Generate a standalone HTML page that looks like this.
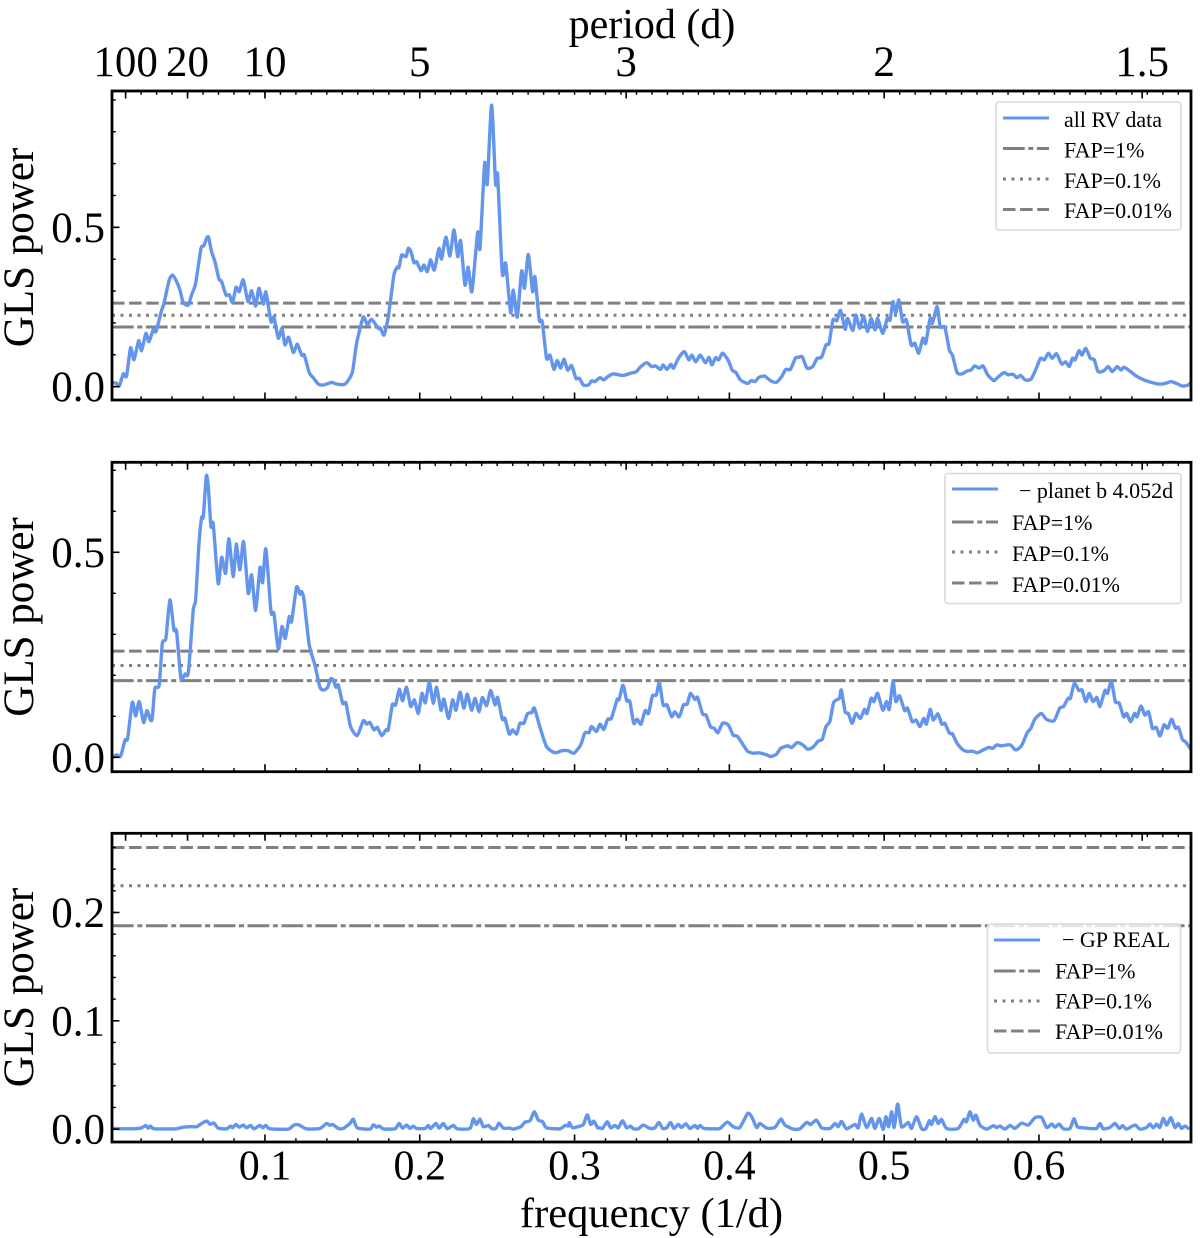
<!DOCTYPE html>
<html lang="en">
<head>
<meta charset="utf-8">
<title>GLS periodograms</title>
<style>
html,body{margin:0;padding:0;background:#fff;}
body{width:1200px;height:1238px;overflow:hidden;}
svg{display:block;filter:blur(0.35px);}
text{font-family:"Liberation Serif","Times New Roman",serif;fill:#000;}
.legend-box{fill:#fff;fill-opacity:.8;stroke:#d9d9d9;stroke-width:1.6;}
.legend-text{font-size:22px;}
.axis-title{font-size:42px;}
.h{fill:none;stroke-width:3;}
.blue{stroke:#6495ed;}
.gray{stroke:#808080;}
.dd{stroke-dasharray:21.7 3.6 5 3.6;}
.dot{stroke-dasharray:3 5.5;}
.dash{stroke-dasharray:12.5 4.6;}
</style>
</head>
<body>
<svg id="chart" xmlns="http://www.w3.org/2000/svg" width="1200" height="1238" viewBox="0 0 1200 1238">
  <defs>
    <clipPath id="clip-0"><rect x="112" y="91" width="1079" height="309"/></clipPath>
    <clipPath id="clip-1"><rect x="112" y="462.3" width="1079" height="309.4"/></clipPath>
    <clipPath id="clip-2"><rect x="112" y="833.3" width="1079" height="308.7"/></clipPath>
  </defs>
  <g id="plots"></g>

  <g>
    <rect class="legend-box" x="996" y="102" width="185" height="128" rx="3"/>
    <line class="h blue" x1="1003" x2="1049" y1="118" y2="118"/>
    <line class="h gray dd" x1="1003" x2="1049" y1="148.5" y2="148.5"/>
    <line class="h gray dot" x1="1003" x2="1049" y1="179" y2="179"/>
    <line class="h gray dash" x1="1003" x2="1049" y1="209.5" y2="209.5"/>
    <text class="legend-text" x="1064" y="127">all RV data</text>
    <text class="legend-text" x="1064" y="157.5">FAP=1%</text>
    <text class="legend-text" x="1064" y="188">FAP=0.1%</text>
    <text class="legend-text" x="1064" y="218">FAP=0.01%</text>
  </g>
  <g>
    <rect class="legend-box" x="945" y="473.5" width="236" height="130" rx="3"/>
    <line class="h blue" x1="952" x2="998" y1="489" y2="489"/>
    <line class="h gray dd" x1="952" x2="998" y1="522" y2="522"/>
    <line class="h gray dot" x1="952" x2="998" y1="552" y2="552"/>
    <line class="h gray dash" x1="952" x2="998" y1="583" y2="583"/>
    <text class="legend-text" x="1019" y="498">− planet b 4.052d</text>
    <text class="legend-text" x="1012" y="530">FAP=1%</text>
    <text class="legend-text" x="1012" y="561">FAP=0.1%</text>
    <text class="legend-text" x="1012" y="592">FAP=0.01%</text>
  </g>
  <g>
    <rect class="legend-box" x="987.5" y="924" width="193" height="129" rx="3"/>
    <line class="h blue" x1="994" x2="1040" y1="940" y2="940"/>
    <line class="h gray dd" x1="994" x2="1040" y1="971" y2="971"/>
    <line class="h gray dot" x1="994" x2="1040" y1="1001" y2="1001"/>
    <line class="h gray dash" x1="994" x2="1040" y1="1031" y2="1031"/>
    <text class="legend-text" x="1062" y="947">− GP REAL</text>
    <text class="legend-text" x="1055" y="978.5">FAP=1%</text>
    <text class="legend-text" x="1055" y="1008.5">FAP=0.1%</text>
    <text class="legend-text" x="1055" y="1039">FAP=0.01%</text>
  </g>

  <g id="frames"></g>

  <text class="axis-title" x="652" y="38" text-anchor="middle">period (d)</text>
  <text class="axis-title" x="651.5" y="1227" text-anchor="middle" style="font-size:42.5px">frequency (1/d)</text>
  <text class="axis-title" transform="translate(33,247.5) rotate(-90)" text-anchor="middle" style="font-size:43px">GLS power</text>
  <text class="axis-title" transform="translate(33,617) rotate(-90)" text-anchor="middle" style="font-size:43px">GLS power</text>
  <text class="axis-title" transform="translate(33,987.5) rotate(-90)" text-anchor="middle" style="font-size:43px">GLS power</text>
</svg>

<script>
// ---- data ----
var xMajorTicks = [0.1, 0.2, 0.3, 0.4, 0.5, 0.6];
var xTickLabels = ['0.1', '0.2', '0.3', '0.4', '0.5', '0.6'];
var periodTicks = [100, 20, 10, 5, 3, 2, 1.5];
var periodLabels = ['100', '20', '10', '5', '3', '2', '1.5'];

var yTicksAll = [0, 0.5];
var yLabelsAll = ['0.0', '0.5'];
var yTicksPlanet = [0, 0.5];
var yLabelsPlanet = ['0.0', '0.5'];
var yTicksGp = [0, 0.1, 0.2];
var yLabelsGp = ['0.0', '0.1', '0.2'];

var yRangeAll = [-0.042, 0.928];
var yRangePlanet = [-0.0351, 0.7195];
var yRangeGp = [-0.0119, 0.2731];

var fapAll = [0.187, 0.224, 0.262];
var fapPlanet = [0.187, 0.224, 0.259];
var fapGp = [0.1877, 0.2247, 0.2600];

var freqAll = [
.0016,.0042,.0059,.0085,.0106,.0132,.0154,.0184,.0203,.0231,
.0251,.0279,.0296,.0332,.0348,.0382,.0404,.0429,.0451,.0472,
.0505,.0526,.0552,.0587,.0606,.0623,.0636,.0655,.0677,.0703,
.0720,.0748,.0770,.0791,.0813,.0834,.0860,.0890,.0914,.0940,
.0961,.0989,.1006,.1039,.1058,.1086,.1110,.1129,.1153,.1183,
.1209,.1237,.1254,.1286,.1312,.1345,.1377,.1431,.1463,.1517,
.1564,.1592,.1635,.1661,.1689,.1732,.1747,.1769,.1797,.1833,
.1855,.1866,.1883,.1911,.1926,.1943,.1963,.1980,.2008,.2027,
.2049,.2070,.2094,.2124,.2141,.2169,.2195,.2221,.2245,.2264,
.2292,.2313,.2337,.2374,.2389,.2419,.2436,.2464,.2490,.2503,
.2533,.2555,.2587,.2604,.2630,.2658,.2677,.2701,.2729,.2744,
.2772,.2791,.2819,.2841,.2867,.2888,.2910,.2932,.2955,.2981,
.3009,.3031,.3057,.3089,.3110,.3132,.3164,
.3189,.3214,.3251,.3313,.3362,.3399,.3424,.3466,.3498,.3523,
.3555,.3572,.3597,.3622,.3639,.3671,.3709,.3738,.3758,.3783,
.3812,.3845,.3869,.3887,.3911,.3931,.3956,.3993,.4018,.4043,
.4072,.4117,.4142,.4166,.4191,.4228,.4265,.4303,.4340,.4364,
.4394,.4426,.4446,.4471,.4501,.4538,.4567,.4595,.4624,.4644,
.4669,.4694,.4718,.4748,.4763,.4798,.4817,.4842,.4867,.4892,
.4916,.4941,.4958,.4991,.5020,.5038,.5057,.5075,.5095,.5119,
.5144,.5174,.5198,.5223,.5250,.5268,.5297,.5312,.5342,.5362,
.5392,.5421,.5441,.5471,.5503,.5535,.5560,.5585,.5614,.5639,
.5669,.5708,.5738,.5775,.5800,.5832,.5857,.5882,.5911,.5948,
.5978,.6010,.6035,.6060,.6085,.6114,.6146,.6171,.6196,.6216,
.6233,.6258,.6278,.6302,.6332,.6357,.6382,.6419,.6448,.6473,
.6505,.6530,.6550,.6592,.6629,.6678,.6728,.6778,.6815,.6852,
.6889,.6926,.6963,.6988];
var powerAll = [
.013,.010,.002,.040,.033,.122,.084,.144,.113,.167,
.141,.180,.173,.239,.262,.335,.350,.330,.303,.264,
.256,.288,.324,.434,.442,.466,.469,.424,.392,.338,
.330,.288,.288,.264,.312,.298,.335,.267,.301,.253,
.309,.259,.297,.204,.218,.152,.183,.131,.155,.107,
.133,.099,.099,.044,.028,.008,.005,.013,.008,.008,
.044,.136,.218,.194,.211,.183,.183,.162,.220,.350,
.375,.374,.413,.408,.434,.424,.389,.392,.364,.382,
.361,.398,.366,.434,.401,.469,.410,.492,.408,.458,
.319,.375,.298,.484,.434,.701,.636,.884,.636,.664,
.356,.387,.232,.303,.218,.363,.309,.415,.298,.345,
.209,.204,.089,.099,.054,.082,.058,.086,.052,.066,
.026,.026,.005,.005,.018,.016,.028,
.021,.031,.040,.035,.042,.047,.061,.075,.063,.065,
.054,.068,.054,.070,.058,.089,.110,.084,.099,.078,
.099,.075,.092,.068,.091,.084,.105,.082,.052,.044,
.021,.010,.019,.016,.029,.033,.019,.013,.033,.054,
.054,.089,.092,.094,.058,.063,.089,.092,.131,.136,
.209,.207,.239,.180,.214,.176,.225,.183,.222,.173,
.214,.178,.214,.167,.214,.209,.267,.230,.272,.204,
.209,.131,.136,.105,.152,.136,.214,.199,.251,.188,
.186,.115,.099,.044,.040,.049,.052,.065,.058,.065,
.037,.019,.031,.044,.037,.039,.028,.035,.021,.023,
.052,.089,.084,.105,.089,.103,.071,.078,.063,.089,
.084,.113,.099,.120,.089,.084,.047,.050,.063,.047,
.063,.052,.061,.047,.033,.021,.013,.008,.010,.016,
.010,.002,.005,.016];

var freqPlanet = [
.0016,.0042,.0068,.0096,.0113,.0143,.0165,.0188,.0216,.0238,
.0261,.0272,.0289,.0317,.0337,.0360,.0386,.0412,.0429,.0457,
.0483,.0505,.0537,.0552,.0574,.0591,.0602,.0621,.0634,.0651,
.0666,.0698,.0720,.0746,.0767,.0795,.0815,.0838,.0862,.0892,
.0914,.0940,.0968,.0985,.1006,.1039,.1058,.1086,.1110,.1131,
.1157,.1172,.1204,.1226,.1237,.1252,.1286,.1323,.1355,.1381,
.1405,.1424,.1441,.1458,.1474,.1502,.1523,.1553,.1596,.1635,
.1657,.1678,.1704,.1726,.1754,.1782,.1797,.1823,.1844,.1868,
.1889,.1915,.1941,.1965,.1991,.2014,.2036,.2062,.2087,.2109,
.2137,.2156,.2186,.2212,.2234,.2260,.2285,.2307,.2335,.2357,
.2383,.2404,.2432,.2458,.2486,.2503,.2533,.2550,.2578,.2600,
.2626,.2647,.2673,.2695,.2723,.2740,.2777,.2819,.2873,.2917,
.2959,.2996,.3039,.3067,.3093,.3110,.3142,.3164,
.3189,.3214,.3238,.3275,.3288,.3313,.3337,.3357,.3382,.3404,
.3429,.3456,.3478,.3503,.3528,.3548,.3572,.3597,.3627,.3647,
.3676,.3704,.3728,.3748,.3778,.3795,.3827,.3850,.3877,.3902,
.3926,.3956,.3993,.4025,.4050,.4085,.4117,.4154,.4191,.4241,
.4265,.4303,.4332,.4377,.4402,.4439,.4476,.4505,.4538,.4575,
.4600,.4624,.4649,.4674,.4711,.4723,.4748,.4768,.4793,.4817,
.4847,.4872,.4889,.4916,.4934,.4958,.4991,.5015,.5033,.5057,
.5075,.5099,.5132,.5151,.5181,.5206,.5231,.5255,.5273,.5297,
.5317,.5347,.5372,.5392,.5421,.5441,.5471,.5510,.5540,.5570,
.5602,.5639,.5676,.5701,.5726,.5758,.5788,.5817,.5849,.5887,
.5924,.5948,.5973,.6015,.6047,.6097,.6134,.6159,.6188,.6203,
.6228,.6258,.6278,.6302,.6325,.6349,.6374,.6394,.6426,.6443,
.6468,.6493,.6518,.6547,.6567,.6592,.6617,.6634,.6659,.6684,
.6708,.6733,.6758,.6782,.6807,.6832,.6857,.6881,.6901,.6926,
.6951,.6983];
var powerPlanet = [
.000,.006,.003,.042,.046,.134,.101,.136,.085,.114,
.091,.095,.168,.176,.278,.290,.384,.311,.307,.193,
.203,.207,.359,.384,.522,.585,.587,.686,.660,.563,
.569,.424,.488,.449,.533,.441,.520,.457,.526,.400,
.445,.358,.463,.426,.508,.355,.351,.264,.319,.290,
.343,.331,.415,.398,.404,.385,.274,.225,.171,.164,
.171,.191,.189,.171,.176,.132,.132,.075,.053,.089,
.081,.085,.067,.073,.053,.067,.068,.128,.128,.166,
.138,.171,.124,.140,.107,.156,.133,.183,.132,.171,
.115,.142,.095,.140,.115,.159,.120,.154,.115,.144,
.111,.146,.126,.163,.128,.146,.093,.095,.057,.067,
.057,.083,.083,.106,.109,.120,.073,.026,.011,.016,
.016,.010,.030,.060,.060,.075,.063,.081,
.068,.093,.095,.141,.141,.176,.138,.136,.083,.093,
.081,.114,.107,.150,.152,.182,.128,.128,.099,.111,
.099,.128,.130,.156,.141,.146,.106,.103,.075,.071,
.060,.083,.079,.054,.052,.033,.015,.010,.011,.006,
.002,.007,.022,.028,.024,.036,.030,.020,.024,.040,
.044,.075,.087,.134,.144,.164,.111,.107,.083,.107,
.095,.117,.107,.144,.136,.156,.115,.136,.117,.185,
.136,.150,.114,.120,.087,.091,.075,.095,.081,.117,
.091,.106,.081,.083,.059,.057,.034,.018,.014,.015,
.011,.018,.024,.022,.030,.028,.030,.030,.018,.028,
.060,.071,.093,.107,.093,.089,.120,.124,.144,.144,
.180,.163,.164,.136,.156,.136,.146,.124,.163,.156,
.185,.136,.132,.099,.107,.087,.107,.099,.125,.103,
.111,.071,.073,.052,.079,.071,.093,.071,.073,.044,
.036,.018];

var freqGp = [
.0016,.0149,.0203,.0229,.0246,.0261,.0285,.0429,.0462,.0515,
.0559,.0591,.0623,.0645,.0671,.0698,.0752,.0778,.0791,.0813,
.0834,.0860,.0881,.0907,.0929,.0968,.0985,.1006,.1032,.1151,
.1183,.1215,.1269,.1355,.1398,.1420,.1437,.1474,.1506,.1549,
.1571,.1596,.1678,.1700,.1721,.1739,.1764,.1840,.1866,.1889,
.1915,.1937,.1958,.1980,.2034,.2055,.2070,.2105,.2126,.2152,
.2178,.2217,.2243,.2324,.2346,.2367,.2389,.2411,.2443,.2464,
.2492,.2512,.2540,.2583,.2604,.2652,.2680,.2712,.2740,.2766,
.2794,.2819,.2906,.2938,.2960,.2966,.2988,.3035,.3057,.3082,
.3104,.3125,.3149,
.3164,.3181,.3211,.3233,.3261,.3282,.3310,.3336,.3362,.3379,
.3412,.3444,.3487,.3519,.3545,.3569,.3595,.3620,.3642,.3670,
.3691,.3719,.3745,.3778,.3795,.3810,.3836,.3896,.3939,.3986,
.4025,.4068,.4118,.4144,.4176,.4197,.4241,.4294,.4333,.4359,
.4413,.4456,.4499,.4525,.4563,.4596,.4650,.4682,.4703,.4725,
.4757,.4811,.4833,.4854,.4886,.4919,.4940,.4968,.4994,.5011,
.5029,.5048,.5065,.5087,.5112,.5156,.5177,.5209,.5242,.5270,
.5291,.5306,.5328,.5349,.5371,.5403,.5478,.5515,.5532,.5554,
.5575,.5593,.5618,.5662,.5705,.5726,
.5748,.5780,.5813,.5845,.5888,.5931,.5974,.6017,.6049,.6082,
.6103,.6131,.6157,.6200,.6226,.6248,.6286,.6329,.6372,.6394,
.6415,.6458,.6491,.6519,.6540,.6566,.6620,.6652,.6695,.6717,
.6738,.6760,.6781,.6803,.6825,.6852,.6878,.6900,.6921,.6943,
.6971];
var powerGp = [
.0006,.0003,.0012,.0034,.0009,.0028,.0003,.0003,.0015,.0022,
.0022,.0052,.0074,.0046,.0055,.0009,.0003,.0028,.0012,.0043,
.0018,.0037,.0012,.0034,.0003,.0034,.0012,.0034,.0003,.0000,
.0034,.0040,.0003,.0006,.0052,.0034,.0043,.0006,.0006,.0052,
.0092,.0012,.0000,.0040,.0018,.0028,.0003,.0003,.0052,.0009,
.0037,.0006,.0028,.0006,.0006,.0034,.0006,.0052,.0009,.0052,
.0003,.0034,.0003,.0006,.0095,.0043,.0092,.0022,.0034,.0006,
.0006,.0055,.0009,.0009,.0000,.0022,.0065,.0077,.0160,.0083,
.0068,.0012,.0003,.0034,.0028,.0059,.0012,.0028,.0043,.0132,
.0043,.0074,.0012,
.0012,.0006,.0068,.0012,.0034,.0012,.0077,.0012,.0028,.0003,
.0003,.0037,.0006,.0012,.0062,.0006,.0012,.0062,.0006,.0043,
.0015,.0049,.0006,.0034,.0006,.0034,.0006,.0003,.0006,.0065,
.0022,.0015,.0145,.0114,.0015,.0052,.0009,.0015,.0092,.0037,
.0000,.0003,.0062,.0043,.0083,.0012,.0006,.0052,.0022,.0071,
.0003,.0043,.0012,.0139,.0015,.0099,.0006,.0099,-.0003,.0114,
.0022,.0160,.0015,.0231,.0022,.0062,.0006,.0114,.0003,.0006,
.0077,.0043,.0114,.0052,.0089,.0006,.0006,.0089,.0068,.0160,
.0083,.0129,.0037,.0000,.0031,.0015,
.0028,.0000,.0034,.0006,.0055,.0037,.0105,.0108,.0015,.0046,
.0018,.0046,.0003,.0006,.0095,.0022,.0012,.0006,.0006,.0052,
.0003,.0015,.0052,.0006,.0031,.0000,.0037,.0000,.0015,.0046,
.0012,.0046,.0015,.0099,.0037,.0105,.0015,.0052,.0006,.0028,
.0000];

// ---- layout ----
var SVGNS = 'http://www.w3.org/2000/svg';
var AX_LEFT = 112, AX_RIGHT = 1191;
var F_LEFT = 0.0012, F_RIGHT = 0.6982;
var plotsLayer = document.getElementById('plots');
var framesLayer = document.getElementById('frames');

function xAxis(f) {
  return AX_LEFT + (f - F_LEFT) / (F_RIGHT - F_LEFT) * (AX_RIGHT - AX_LEFT);
}
function makeYAxis(range, top, bottom) {
  return function (p) {
    return bottom - (p - range[0]) / (range[1] - range[0]) * (bottom - top);
  };
}
function svgEl(tag, attrs, parent) {
  var el = document.createElementNS(SVGNS, tag);
  for (var k in attrs) { el.setAttribute(k, attrs[k]); }
  parent.appendChild(el);
  return el;
}
// smooth curve through the data points
function curvePath(xs, ys) {
  var d = 'M' + xs[0].toFixed(2) + ' ' + ys[0].toFixed(2);
  var k = 0.11;
  for (var i = 0; i < xs.length - 1; i++) {
    var a = Math.max(i - 1, 0), b = Math.min(i + 2, xs.length - 1);
    var c1x = xs[i] + (xs[i + 1] - xs[a]) * k;
    var c1y = ys[i] + (ys[i + 1] - ys[a]) * k;
    var c2x = xs[i + 1] - (xs[b] - xs[i]) * k;
    var c2y = ys[i + 1] - (ys[b] - ys[i]) * k;
    d += 'C' + c1x.toFixed(2) + ' ' + c1y.toFixed(2) + ' ' + c2x.toFixed(2) + ' ' + c2y.toFixed(2) + ' ' + xs[i + 1].toFixed(2) + ' ' + ys[i + 1].toFixed(2);
  }
  return d;
}

function drawPanel(id, clipId, top, bottom, yRange, freq, power, fap, yTicks, yLabels, yMinorStep, showXLabels, showTopLabels) {
  var yAxis = makeYAxis(yRange, top, bottom);
  var g = svgEl('g', {}, plotsLayer);
  
  

  // FAP threshold lines
  var fapClasses = ['h gray dd', 'h gray dot', 'h gray dash'];
  var fapNames = ['fap-1-line', 'fap-01-line', 'fap-001-line'];
  fap.forEach(function (level, i) {
    var l = svgEl('line', { x1: AX_LEFT, x2: AX_RIGHT, y1: yAxis(level), y2: yAxis(level), 'class': fapClasses[i] }, g);
    
    
  });

  // series
  var n = Math.min(freq.length, power.length);
  var xs = [], ys = [];
  for (var i = 0; i < n; i++) {
    xs.push(xAxis(freq[i]));
    ys.push(yAxis(power[i]));
  }
  var line = svgEl('path', { d: curvePath(xs, ys), fill: 'none', stroke: '#6495ed', 'stroke-width': 3.4, 'stroke-linejoin': 'round', 'clip-path': 'url(#' + clipId + ')' }, g);
  
  

  // frame + ticks live above the legends
  var fg = svgEl('g', {}, framesLayer);
  
  
  var frame = svgEl('rect', { x: AX_LEFT, y: top, width: AX_RIGHT - AX_LEFT, height: bottom - top, fill: 'none', stroke: '#000', 'stroke-width': 2.8 }, fg);
  
  

  function tick(x1, y1, x2, y2, w, name) {
    var t = svgEl('line', { x1: x1, y1: y1, x2: x2, y2: y2, stroke: '#000', 'stroke-width': w }, fg);
    
    
  }

  // bottom x ticks
  for (var m = 1; m * 0.02 < F_RIGHT; m++) {
    var fm = m * 0.02;
    if (m % 5 !== 0) { tick(xAxis(fm), bottom, xAxis(fm), bottom - 3.8, 1.4, 'x-minor-tick'); }
  }
  xMajorTicks.forEach(function (f, i) {
    tick(xAxis(f), bottom, xAxis(f), bottom - 7.5, 1.6, 'x-major-tick');
    if (showXLabels) {
      var t = svgEl('text', { x: xAxis(f), y: 1179.5, 'text-anchor': 'middle', 'font-size': 42 }, fg);
      
      
      t.textContent = xTickLabels[i];
    }
  });

  // top period ticks
  for (var q = 1; q * 0.01 < F_RIGHT; q++) {
    tick(xAxis(q * 0.01), top, xAxis(q * 0.01), top + 3.8, 1.4, 'top-minor-tick');
  }
  periodTicks.forEach(function (d, i) {
    var f = 1 / d;
    tick(xAxis(f), top, xAxis(f), top + 7.5, 1.6, 'top-major-tick');
    if (showTopLabels) {
      var t = svgEl('text', { x: xAxis(f), y: 76, 'text-anchor': 'middle', 'font-size': 43 }, fg);
      
      
      t.textContent = periodLabels[i];
    }
  });

  // y ticks
  for (var v = 0; v <= yRange[1]; v += yMinorStep) {
    tick(AX_LEFT, yAxis(v), AX_LEFT + 3.8, yAxis(v), 1.4, 'y-minor-tick');
  }
  yTicks.forEach(function (v, i) {
    tick(AX_LEFT, yAxis(v), AX_LEFT + 7.5, yAxis(v), 1.6, 'y-major-tick');
    var t = svgEl('text', { x: 105, y: yAxis(v) + 14.5, 'text-anchor': 'end', 'font-size': 43 }, fg);
    
    
    t.textContent = yLabels[i];
  });
}

drawPanel('all-rv', 'clip-0', 91, 400, yRangeAll, freqAll, powerAll, fapAll, yTicksAll, yLabelsAll, 0.1, false, true);
drawPanel('planet-b', 'clip-1', 462.3, 771.7, yRangePlanet, freqPlanet, powerPlanet, fapPlanet, yTicksPlanet, yLabelsPlanet, 0.1, false, false);
drawPanel('gp-real', 'clip-2', 833.3, 1142, yRangeGp, freqGp, powerGp, fapGp, yTicksGp, yLabelsGp, 0.02, true, false);
</script>
</body>
</html>
